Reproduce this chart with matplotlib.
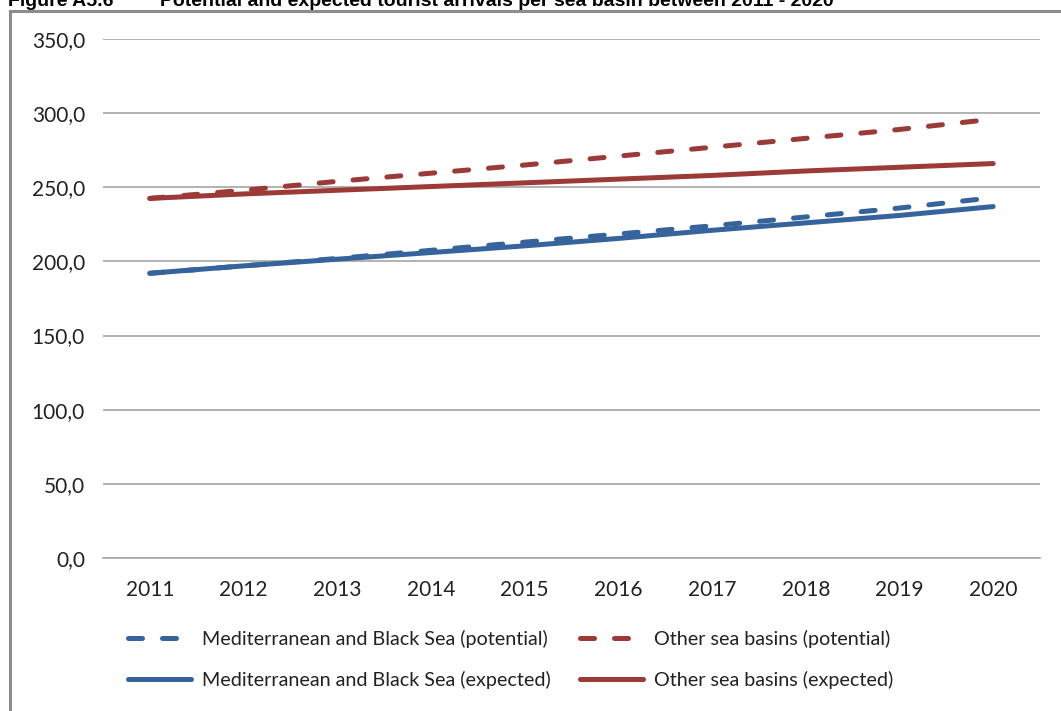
import matplotlib.pyplot as plt
from matplotlib.patches import Rectangle

# Tourist arrivals per sea basin (millions), 2011-2020
years = ["2011", "2012", "2013", "2014", "2015", "2016", "2017", "2018", "2019", "2020"]
med_potential = [192.0, 197.0, 202.0, 207.5, 213.0, 218.5, 224.0, 230.0, 236.0, 243.0]
med_expected = [192.0, 197.0, 201.5, 206.0, 210.5, 215.5, 221.0, 226.0, 231.0, 237.0]
other_potential = [242.5, 248.0, 254.0, 259.5, 265.0, 271.0, 277.0, 283.0, 289.0, 296.0]
other_expected = [242.5, 245.5, 248.0, 250.5, 253.0, 255.5, 258.0, 261.0, 263.5, 266.0]

y_ticks = [0, 50, 100, 150, 200, 250, 300, 350]

BLUE = "#36639c"
RED = "#9b3a36"

plt.rcParams["font.family"] = ["Lato", "DejaVu Sans"]

fig = plt.figure(figsize=(10.61, 7.11), dpi=100)
W, H = 1061, 711

# outer chart frame (runs off the right and bottom edges)
fig.patches.append(Rectangle((10 / W, -0.1), 1.2, 1.1 - 11 / H,
                             transform=fig.transFigure, fill=False,
                             edgecolor="#8c8c8c", linewidth=2.2))

# figure caption, cut by the top edge
fig.text(8 / W, 1 - 6 / H, "Figure A5.6", fontsize=14, fontweight="bold",
         family="Liberation Sans", va="baseline")
fig.text(160 / W, 1 - 6 / H,
         "Potential and expected tourist arrivals per sea basin between 2011 - 2020",
         fontsize=14, fontweight="bold", family="Liberation Sans", va="baseline")

ax = fig.add_axes([103 / W, 1 - 558 / H, 937 / W, 519 / H])
x = range(len(years))

dash = (0, (2.8, 4.0))
ax.plot(x, med_potential, color=BLUE, lw=3.6, ls=dash, dash_capstyle="round",
        label="Mediterranean and Black Sea (potential)")
ax.plot(x, med_expected, color=BLUE, lw=3.6, solid_capstyle="round",
        label="Mediterranean and Black Sea (expected)")
ax.plot(x, other_potential, color=RED, lw=3.6, ls=dash, dash_capstyle="round",
        label="Other sea basins (potential)")
ax.plot(x, other_expected, color=RED, lw=3.6, solid_capstyle="round",
        label="Other sea basins (expected)")

ax.set_xlim(-0.5, len(years) - 0.5)
ax.set_ylim(0, 350)
ax.set_xticks(list(x))
ax.set_xticklabels(years)
ax.set_yticks(y_ticks)
ax.set_yticklabels([f"{v:.1f}".replace(".", ",") for v in y_ticks])
ax.tick_params(axis="both", length=0, labelsize=15, colors="#222222")
ax.tick_params(axis="x", pad=16)
ax.tick_params(axis="y", pad=13)

ax.grid(axis="y", color="#a6a6a6", linewidth=1.2)
ax.set_axisbelow(True)
for side in ["left", "right", "top"]:
    ax.spines[side].set_visible(False)
ax.spines["bottom"].set_color("#a6a6a6")
ax.spines["bottom"].set_linewidth(1.2)

leg = fig.legend(loc="upper left", bbox_to_anchor=(110 / W, 1 - 612 / H), ncol=2,
                 frameon=False, fontsize=14.2, handlelength=3.2, handletextpad=0.55,
                 columnspacing=1.5, labelspacing=1.15)
for t in leg.get_texts():
    t.set_color("#222222")

fig.savefig("out.png", dpi=100)
